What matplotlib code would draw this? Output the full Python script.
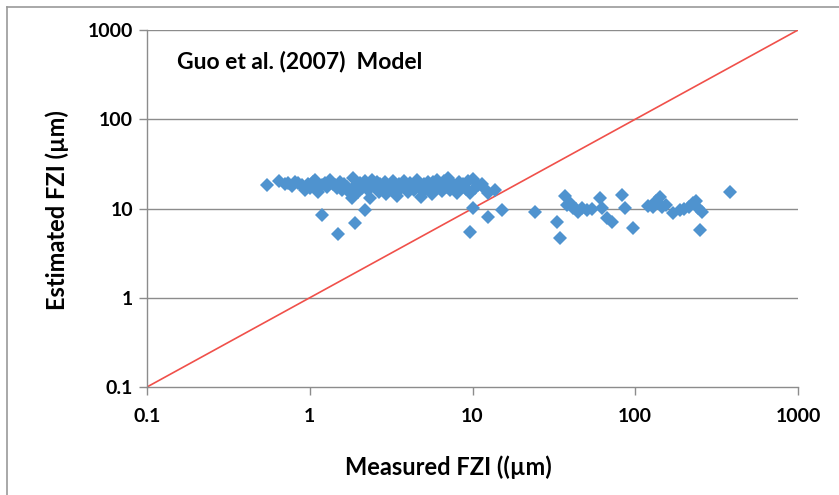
import matplotlib.pyplot as plt
from matplotlib.lines import Line2D

plt.rcParams['font.family'] = ['Lato', 'DejaVu Sans']
plt.rcParams['font.weight'] = 'bold'

# Measured vs estimated FZI (um), Guo et al. (2007) model
measured_upper = [
    0.55, 0.65, 0.70, 0.74, 0.78, 0.81, 0.85, 0.89, 0.94, 0.97,
    1.00, 1.04, 1.07, 1.12, 1.15, 1.19, 1.24, 1.28, 1.33, 1.38,
    1.43, 1.48, 1.53, 1.57, 1.62, 1.70, 1.76, 1.81, 1.84, 1.90,
    1.98, 2.05, 2.10, 2.18, 2.28, 2.34, 2.40, 2.48, 2.58, 2.65,
    2.72, 2.80, 2.88, 2.95, 3.05, 3.15, 3.25, 3.35, 3.45, 3.55,
    3.65, 3.78, 3.90, 4.00, 4.15, 4.28, 4.40, 4.55, 4.70, 4.85,
    5.00, 5.15, 5.30, 5.45, 5.60, 5.75, 5.90, 6.05, 6.25, 6.45,
    6.65, 6.85, 7.05, 7.25, 7.50, 7.75, 8.00, 8.25, 8.50, 8.80,
    9.10, 9.40, 9.70, 10.0, 10.4, 10.8, 11.4, 11.9, 12.4, 13.7,
]
estimated_upper = [
    18.4, 20.5, 19.0, 19.2, 18.0, 20.0, 19.5, 18.4, 16.2, 18.8,
    17.0, 19.8, 20.8, 15.3, 17.8, 18.4, 19.5, 17.2, 20.8, 18.9,
    18.4, 16.8, 20.0, 16.2, 19.0, 17.5, 14.8, 13.2, 22.0, 18.0,
    15.3, 19.5, 17.0, 20.5, 16.2, 13.2, 20.8, 18.5, 20.0, 15.5,
    18.8, 17.0, 19.8, 14.5, 18.0, 16.5, 20.2, 17.5, 13.8, 19.0,
    16.8, 20.5, 17.8, 15.2, 19.5, 18.0, 16.0, 20.8, 17.2, 13.5,
    19.0, 16.5, 20.0, 18.2, 14.5, 19.8, 17.0, 21.0, 18.5, 15.8,
    20.5, 17.5, 22.0, 16.0, 19.2, 18.0, 14.8, 20.0, 17.2, 18.8,
    16.5, 20.5, 15.0, 21.5, 17.0, 18.5, 19.0, 16.5, 15.0, 16.0,
]
measured_lower = [
    1.19, 1.49, 1.89, 2.19, 9.7, 10.1, 12.5, 15.2, 24.2, 33.0,
    34.5, 37.0, 38.1, 40.0, 41.5, 43.0, 44.5, 47.0, 50.5, 54.0,
    60.7, 62.5, 67.0, 72.0, 83.0, 86.5, 96.8, 120.0, 128.5, 135.0,
    142.0, 146.0, 155.0, 171.0, 188.0, 200.0, 215.0, 226.0, 235.0, 243.0,
    257.0, 250.0, 382.0,
]
estimated_lower = [
    8.5, 5.2, 6.9, 9.6, 5.5, 10.1, 8.0, 9.6, 9.1, 7.1,
    4.7, 13.8, 10.9, 11.5, 10.1, 9.8, 9.1, 10.2, 9.6, 9.9,
    13.1, 10.1, 7.8, 7.1, 14.2, 10.1, 6.05, 10.8, 10.3, 12.0,
    13.5, 10.3, 11.0, 8.9, 9.6, 9.9, 10.5, 11.5, 12.0, 10.1,
    9.1, 5.7, 15.3,
]
measured = measured_upper + measured_lower
estimated = estimated_upper + estimated_lower

one_to_one = [0.1, 1000]
tick_values = [0.1, 1, 10, 100, 1000]
tick_labels = ['0.1', '1', '10', '100', '1000']

W, H = 839, 495
fig = plt.figure(figsize=(W / 100, H / 100), dpi=100)
ax = fig.add_axes([147 / W, 1 - 387 / H, (798 - 147) / W, (387 - 30) / H])

ax.plot(measured, estimated, linestyle='none', marker='D', markersize=7.6,
        color='#4F93CF', markeredgewidth=0, zorder=3)
ax.plot(one_to_one, one_to_one, color='#F0504A', linewidth=1.2, zorder=2)

ax.set_xscale('log')
ax.set_yscale('log')
ax.set_xlim(0.1, 1000)
ax.set_ylim(0.1, 1000)
ax.set_xticks(tick_values)
ax.set_xticklabels(tick_labels)
ax.set_yticks(tick_values)
ax.set_yticklabels(tick_labels)
ax.minorticks_off()

for y in tick_values[1:]:
    ax.axhline(y, color='#8C8C8C', linewidth=1.0, zorder=1)

for side in ['top', 'right']:
    ax.spines[side].set_visible(False)
for side in ['left', 'bottom']:
    ax.spines[side].set_color('#8C8C8C')
    ax.spines[side].set_linewidth(1.0)

ax.tick_params(axis='both', which='major', direction='out', length=6,
               width=1.0, color='#8C8C8C', labelsize=14, pad=4)
ax.tick_params(axis='x', pad=9)

fig.text(448 / W, 1 - 467 / H, 'Measured FZI ((µm)', fontsize=17,
         fontweight='bold', ha='center', va='center')
fig.text(57 / W, 1 - 210 / H, 'Estimated FZI (µm)', fontsize=17,
         fontweight='bold', ha='center', va='center', rotation=90)
fig.text(177 / W, 1 - 62 / H, 'Guo et al. (2007)  Model', fontsize=16.5,
         fontweight='bold', ha='left', va='center')

# chart frame
fig.add_artist(Line2D([7 / W, 7 / W], [0, 1 - 7 / H], color='#9A9A9A', linewidth=1.2))
fig.add_artist(Line2D([7 / W, 1], [1 - 7 / H, 1 - 7 / H], color='#9A9A9A', linewidth=1.2))

fig.savefig('out.png', dpi=100)
